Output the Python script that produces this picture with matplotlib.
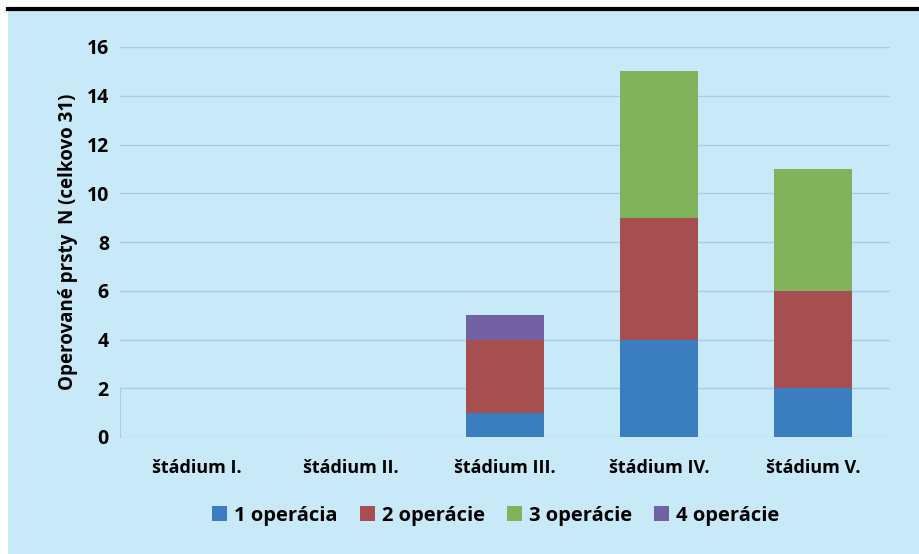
import matplotlib.pyplot as plt
import numpy as np

categories = ['štádium I.', 'štádium II.', 'štádium III.', 'štádium IV.', 'štádium V.']
series_names = ['1 operácia', '2 operácie', '3 operácie', '4 operácie']
op1 = [0, 0, 1, 4, 2]
op2 = [0, 0, 3, 5, 4]
op3 = [0, 0, 0, 6, 5]
op4 = [0, 0, 1, 0, 0]
colors = ['#3a7ebf', '#a54f51', '#80b35c', '#7262a3']
y_ticks = [0, 2, 4, 6, 8, 10, 12, 14, 16]

plt.rcParams['font.family'] = ['Open Sans', 'DejaVu Sans']
plt.rcParams['font.weight'] = 'bold'

bg = '#c7e9f8'
fig = plt.figure(figsize=(9.19, 5.54), dpi=100)
fig.patch.set_facecolor('white')
# blue panel and black top rule
fig.add_artist(plt.Rectangle((8/919, 0), 1, 1 - 10/554, transform=fig.transFigure,
                             facecolor=bg, edgecolor='none', zorder=-10))
fig.add_artist(plt.Line2D([8/919, 1], [1 - 9/554, 1 - 9/554], transform=fig.transFigure,
                          color='black', lw=3, zorder=-5))

ax = fig.add_axes([120/919, 1 - 437/554, 770/919, (437 - 47)/554])
ax.set_facecolor('none')

x = np.arange(len(categories))
bottom = np.zeros(len(categories))
for vals, name, c in zip([op1, op2, op3, op4], series_names, colors):
    ax.bar(x, vals, 0.51, bottom=bottom, color=c, label=name, zorder=3)
    bottom += np.array(vals)

ax.set_xlim(-0.5, len(categories) - 0.5)
ax.set_ylim(0, 16)
ax.set_yticks(y_ticks)
ax.set_xticks(x)
ax.set_xticklabels(categories, fontsize=13, fontweight='bold')
ax.tick_params(axis='y', labelsize=14, length=0, pad=8)
ax.tick_params(axis='x', length=0, pad=16)
ax.grid(axis='y', color='#a9cbe0', lw=1, zorder=1)
for s in ['top', 'right', 'bottom']:
    ax.spines[s].set_visible(False)
ax.spines['left'].set_color('#a9cbe0')
ax.spines['left'].set_bounds(0, 2)
ax.set_ylabel('Operované prsty  N (celkovo 31)', fontsize=13.5, fontweight='bold', labelpad=6)

ax.legend(loc='upper center', bbox_to_anchor=(0.488, -0.13), ncol=4, frameon=False,
          fontsize=14.5, handlelength=0.75, handleheight=0.75, handletextpad=0.35,
          columnspacing=1.1)

fig.savefig('out.png', dpi=100, facecolor=fig.get_facecolor())
